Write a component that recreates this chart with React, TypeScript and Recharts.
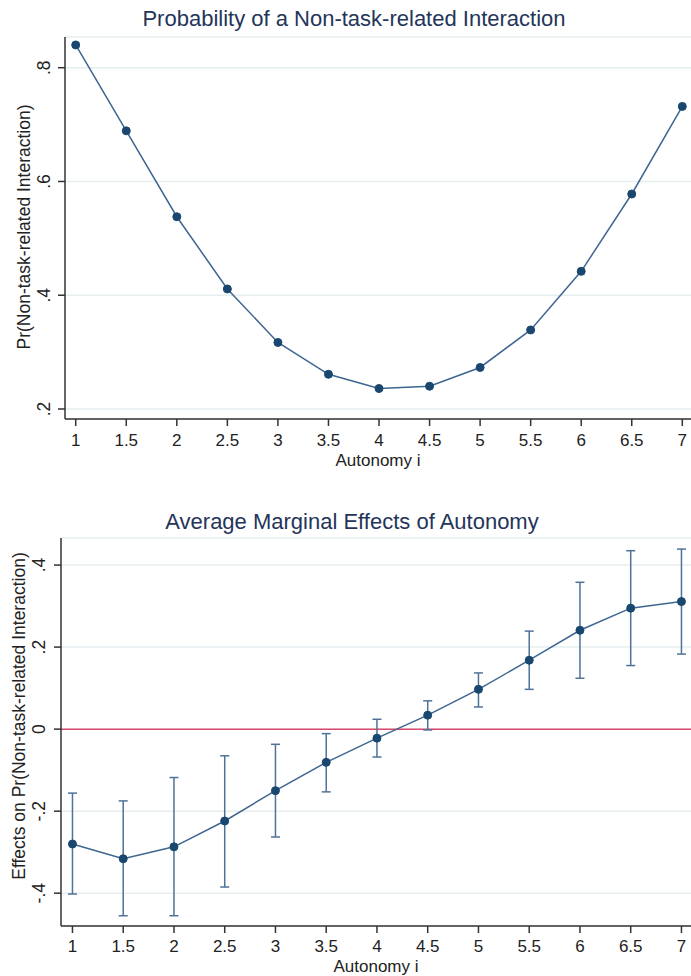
import React from "react";
import {
  LineChart,
  Line,
  XAxis,
  YAxis,
  CartesianGrid,
  ReferenceLine,
  ErrorBar,
} from "recharts";

const autonomy = [1, 1.5, 2, 2.5, 3, 3.5, 4, 4.5, 5, 5.5, 6, 6.5, 7];
const probNonTask = [0.84, 0.689, 0.538, 0.411, 0.317, 0.261, 0.236, 0.24, 0.273, 0.339, 0.442, 0.578, 0.732];
const marginalEffect = [-0.28, -0.316, -0.287, -0.224, -0.15, -0.081, -0.022, 0.034, 0.097, 0.168, 0.241, 0.295, 0.311];
const ciLower = [-0.402, -0.455, -0.455, -0.385, -0.263, -0.153, -0.068, -0.002, 0.054, 0.097, 0.124, 0.155, 0.183];
const ciUpper = [-0.156, -0.175, -0.118, -0.065, -0.037, -0.011, 0.024, 0.069, 0.137, 0.239, 0.358, 0.435, 0.439];
const xTicks = [1, 1.5, 2, 2.5, 3, 3.5, 4, 4.5, 5, 5.5, 6, 6.5, 7];
const topYTicks = [0.2, 0.4, 0.6, 0.8];
const bottomYTicks = [-0.4, -0.2, 0, 0.2, 0.4];

const FONT = "'Liberation Sans', Arial, sans-serif";
const NAVY = "#1a476f";
const LINE = "#3e6690";
const TITLE = "#24355a";
const AXIS = "#333333";
const GRID = "#e6eef0";
const TXT = "#222";

const fmt = (v: number) => (v === 0 ? "0" : v.toFixed(1).replace("0.", "."));

const probData = autonomy.map((a, i) => ({ x: a, p: probNonTask[i] }));
const effData = autonomy.map((a, i) => ({
  x: a,
  m: marginalEffect[i],
  err: [marginalEffect[i] - ciLower[i], ciUpper[i] - marginalEffect[i]],
}));

function XTick({ x, y, payload, dy }: any) {
  return (
    <text x={x} y={y} dy={dy} textAnchor="middle" fontFamily={FONT} fontSize={17} fill={TXT}>
      {String(payload.value)}
    </text>
  );
}

function YTick({ x, y, payload, off }: any) {
  return (
    <text
      transform={`translate(${x - off},${y}) rotate(-90)`}
      textAnchor="middle"
      fontFamily={FONT}
      fontSize={17.5}
      fill={TXT}
    >
      {fmt(payload.value)}
    </text>
  );
}

const abs = (l: number, t: number): React.CSSProperties => ({ position: "absolute", left: l, top: t });

// titles and axis titles, placed by baseline
function Texts() {
  return (
    <svg
      width={691}
      height={976}
      style={{ position: "absolute", left: 0, top: 0, pointerEvents: "none" }}
      fontFamily={FONT}
    >
      <text x={354} y={25.5} textAnchor="middle" fontSize={22} fill={TITLE}>
        Probability of a Non-task-related Interaction
      </text>
      <text transform="translate(29.5,227) rotate(-90)" textAnchor="middle" fontSize={17.5} fill={TXT}>
        Pr(Non-task-related Interaction)
      </text>
      <text x={378} y={466} textAnchor="middle" fontSize={17} fill={TXT}>
        Autonomy i
      </text>

      <text x={352} y={529} textAnchor="middle" fontSize={22} fill={TITLE}>
        Average Marginal Effects of Autonomy
      </text>
      <text transform="translate(25,716) rotate(-90)" textAnchor="middle" fontSize={17.5} fill={TXT}>
        Effects on Pr(Non-task-related Interaction)
      </text>
      <text x={376} y={972} textAnchor="middle" fontSize={17} fill={TXT}>
        Autonomy i
      </text>
    </svg>
  );
}

export default function App() {
  return (
    <div style={{ position: "absolute", left: 0, top: 0, width: 691, height: 976, background: "#fff" }}>
      <div style={abs(0, 0)}>
        <LineChart width={691} height={480} data={probData} margin={{ top: 37, right: 0, left: 0, bottom: 0 }}>
          <CartesianGrid vertical={false} stroke={GRID} strokeWidth={1.5} />
          <XAxis
            dataKey="x"
            type="number"
            domain={[0.894, 7.086]}
            ticks={xTicks}
            allowDataOverflow
            height={61}
            tickSize={7}
            tickMargin={0}
            stroke={AXIS}
            strokeWidth={1.5}
            tick={<XTick dy={20} />}
          />
          <YAxis
            type="number"
            domain={[0.1824, 0.854]}
            ticks={topYTicks}
            allowDataOverflow
            width={65}
            tickSize={7}
            tickMargin={0}
            stroke={AXIS}
            strokeWidth={1.5}
            tick={<YTick off={8} />}
          />
          <Line
            dataKey="p"
            stroke={LINE}
            strokeWidth={1.5}
            dot={{ r: 4, fill: NAVY, stroke: NAVY, strokeWidth: 1 }}
            isAnimationActive={false}
          />
        </LineChart>
      </div>

      <div style={abs(0, 480)}>
        <LineChart width={691} height={496} data={effData} margin={{ top: 58, right: 0, left: 0, bottom: 0 }}>
          <CartesianGrid vertical={false} stroke={GRID} strokeWidth={1.5} />
          <XAxis
            dataKey="x"
            type="number"
            domain={[0.887, 7.094]}
            ticks={xTicks}
            allowDataOverflow
            height={50}
            tickSize={7}
            tickMargin={0}
            stroke={AXIS}
            strokeWidth={1.5}
            tick={<XTick dy={19} />}
          />
          <YAxis
            type="number"
            domain={[-0.48, 0.466]}
            ticks={bottomYTicks}
            allowDataOverflow
            width={61}
            tickSize={7}
            tickMargin={0}
            stroke={AXIS}
            strokeWidth={1.5}
            tick={<YTick off={9} />}
          />
          <ReferenceLine y={0} stroke="#d9486e" strokeWidth={1.5} />
          <Line
            dataKey="m"
            stroke={LINE}
            strokeWidth={1.5}
            dot={{ r: 4, fill: NAVY, stroke: NAVY, strokeWidth: 1 }}
            isAnimationActive={false}
          >
            <ErrorBar dataKey="err" direction="y" width={4.5} stroke="#4f7297" strokeWidth={1.5} isAnimationActive={false} />
          </Line>
        </LineChart>
      </div>

      <Texts />
    </div>
  );
}
